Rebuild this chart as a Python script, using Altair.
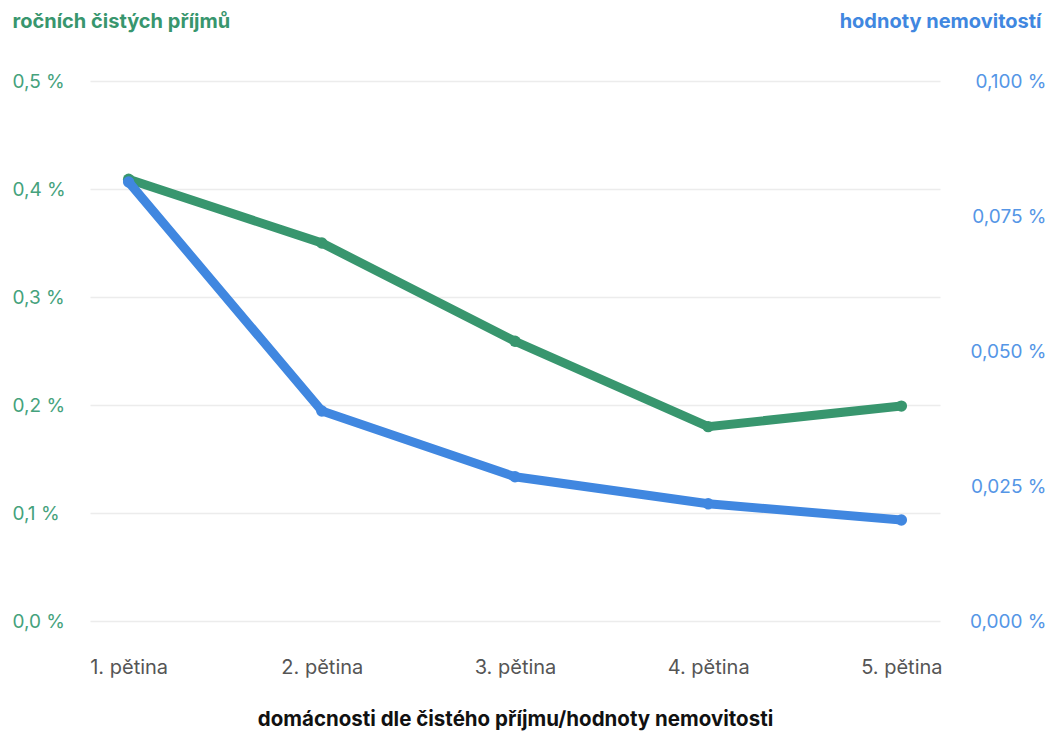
import altair as alt
import pandas as pd

categories = ["1. pětina", "2. pětina", "3. pětina", "4. pětina", "5. pětina"]
income_share = [0.409, 0.350, 0.259, 0.180, 0.199]        # % of annual net income
property_share = [0.0813, 0.0389, 0.0267, 0.0217, 0.0187]  # % of property value

df = pd.DataFrame({"cat": categories, "income": income_share, "property": property_share})

GREEN = "#38966e"
GREEN_TXT = "#45a27c"
BLUE = "#4087e0"
BLUE_TXT = "#5596e6"
FONT = "Inter"

x = alt.X("cat:N", sort=categories, scale=alt.Scale(type="point", padding=0.2),
          axis=alt.Axis(title="domácnosti dle čistého příjmu/hodnoty nemovitosti",
                        titleFont=FONT, titleFontSize=20.5, titleFontWeight="bold", titleColor="#111111",
                        titlePadding=32, labelAngle=0, labelFont=FONT, labelFontSize=20,
                        labelColor="#555555", labelPadding=36, domain=False, ticks=False, grid=False))

left = alt.Chart(df).mark_line(color=GREEN, strokeWidth=9, point=alt.OverlayMarkDef(color=GREEN, size=130, filled=True, opacity=1)).encode(
    x=x,
    y=alt.Y("income:Q", scale=alt.Scale(domain=[0, 0.5]),
            axis=alt.Axis(title="ročních čistých příjmů", values=[0, 0.1, 0.2, 0.3, 0.4, 0.5],
                          labelExpr="replace(format(datum.value, '.1f'), '.', ',') + ' %'",
                          titleAngle=0, titleX=-78, titleY=-54, titleAlign="left", titleBaseline="alphabetic",
                          titleFont=FONT, titleFontSize=20, titleFontWeight="bold", titleColor=GREEN,
                          labelAlign="left", labelPadding=78, labelFont=FONT, labelFontSize=19,
                          labelColor=GREEN_TXT, domain=False, ticks=False, grid=True,
                          gridColor="#ececec", gridWidth=1.5)),
)

right = alt.Chart(df).mark_line(color=BLUE, strokeWidth=9, point=alt.OverlayMarkDef(color=BLUE, size=130, filled=True, opacity=1)).encode(
    x=x,
    y=alt.Y("property:Q", scale=alt.Scale(domain=[0, 0.1]),
            axis=alt.Axis(title="hodnoty nemovitostí", orient="right", values=[0, 0.025, 0.05, 0.075, 0.1],
                          labelExpr="replace(format(datum.value, '.3f'), '.', ',') + ' %'",
                          titleAngle=0, titleX=101, titleY=-54, titleAlign="right", titleBaseline="alphabetic",
                          titleFont=FONT, titleFontSize=20, titleFontWeight="bold", titleColor=BLUE,
                          labelAlign="right", labelPadding=106, labelFont=FONT, labelFontSize=19,
                          labelColor=BLUE_TXT, domain=False, ticks=False, grid=False)),
)

chart = alt.layer(left, right).resolve_scale(y="independent").properties(
    width=850, height=540,
    background="white",
    autosize=alt.AutoSizeParams(type="none"),
    padding={"left": 90, "top": 81, "right": 108, "bottom": 114},
).configure_view(strokeWidth=0, stroke="transparent")

chart.save("out.html", embed_options={"renderer": "svg", "actions": False})
